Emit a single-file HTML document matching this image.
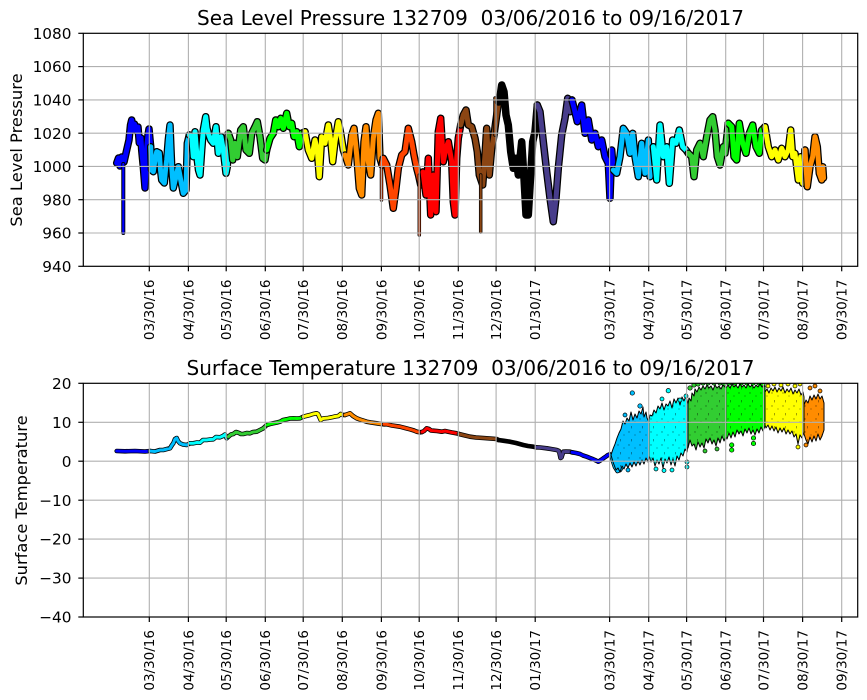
<!DOCTYPE html>
<html><head><meta charset="utf-8"><style>
html,body{margin:0;padding:0;background:#fff;}
svg{display:block;}
text{font-family:"DejaVu Sans","Liberation Sans",sans-serif;fill:#000;}
</style></head><body>
<svg width="867" height="700" viewBox="0 0 867 700" xmlns="http://www.w3.org/2000/svg">
<defs>
<clipPath id="c1"><rect x="83.3" y="33.3" width="774.4" height="233"/></clipPath>
<clipPath id="c2"><rect x="83.3" y="383.3" width="774.4" height="233.7"/></clipPath>
<pattern id="spk" width="11" height="13" patternUnits="userSpaceOnUse"><circle cx="2" cy="3" r="0.7" fill="#000"/><circle cx="8" cy="6" r="0.6" fill="#000"/><rect x="4" y="10" width="0.8" height="2.4" fill="#000"/></pattern>
<!-- top series -->
<polyline id="t1" points="116.7,163 118.5,158 120,166 121.7,157 124,162 126.7,150 129,140 130.5,125 131.7,120 133,130 134.5,124 136.7,131 138,127 139.3,143 141,138 141.7,150 143.3,166.7 145,188 146,170 146.7,146.7 148,135 149,129 150.7,146.7"/>
<polyline id="t2" points="150.7,146.7 151.5,170 153.3,171.7 155,160 156.7,151.7 159.3,153 160.5,170 161.7,180 164.3,183 165.5,170 166.7,160 168.3,140 170,125 171,150 171.7,166.7 173.3,188 176,176.7 178.3,166.7 180.7,180 183.3,193.3 186,190 187.3,143.3 189.3,135"/>
<polyline id="t3" points="189.3,135 191.7,136.7 193.3,156.7 195,131.7 197.3,160 198.5,170 200,175 201.7,150 203.3,130 205.7,116.7 207,128 208.3,133.3 210.7,140 213.3,143.3 216,126.7 218.3,153.3 221,136.7 223.3,150 226,173.3 227.3,166.7 228.3,133.3"/>
<polyline id="t4" points="228.3,133.3 230.7,140 232.7,160 235,143.3 237.3,156.7 240.7,130 243.3,126.7 246,150 249.3,153.3 251.7,133.3 255,126.7 257.3,121.7 260,136.7 262.7,158.3 265,160 266.7,150"/>
<polyline id="t5" points="266.7,150 270,138.3 273.3,133.3 275.7,120 278.3,126.7 280.7,118.3 283.3,128.3 286.7,113.3 289.3,126.7 291.7,123.3 294,136.7 296.7,131.7 299.3,146.7 301.7,133.3 305,131.7"/>
<polyline id="t6" points="305,131.7 308.3,150 311.7,158.3 315,140 317.3,150 319.3,176.7 321.7,136.7 325,143.3 328.3,125 330.7,140 332.7,161.7 335,141.7 338.3,121.7 340.7,133.3 343.3,150 345,155"/>
<polyline id="t7" points="345,155 348.3,165 351.7,135 354,128.3 356.7,155 359.3,188.3 361.7,195 364,141.7 366,126.7 368.3,161.7 370.7,175 373.3,138.3 376,120 378.3,113.3 380,158.3 382,165"/>
<polyline id="t8" points="382,165 383.3,158.3 386.7,165 390,185 393.3,208.3 396,188.3 398.3,168.3 401.7,155 405,151.7 408.3,128.3 411.7,141.7 414,155 416.7,168.3 418.5,175 420.7,185 423,172"/>
<polyline id="t9" points="423,172 426,195 428.3,158.3 430.7,215 433.3,175 436,211.7 438.3,131.7 440.7,118.3 443.3,161.7 446,148.3 448.3,141.7 451.7,161.7 453.3,201.7 455,215 456.7,158.3 458.3,138.3 460.7,125"/>
<polyline id="t10" points="460.7,125 463.3,115 466,110 468.3,125 471.7,126.7 475,138.3 477.3,151.7 479.3,175 482.7,185 485,155 486.7,128.3 489.3,175 491.7,148.3 494,135 496.7,115 498.5,102"/>
<polyline id="t11" points="498.5,102 499.3,101.7 501.7,85 504,91.7 506,115 508.3,125 510.7,151.7 513.3,168.3 516,158.3 518.3,175 521.7,141.7 524,178.3 526,215 528.3,215 530.7,175 532.7,141.7 535,131.7 537.3,105"/>
<polyline id="t12" points="537.3,105 540,111.7 543.3,141.7 546.7,171.7 550,198.3 553.3,221.7 556,198.3 558.3,168.3 561.7,135 565,118.3 567.7,98.3 570,111.7 572,100"/>
<polyline id="t13" points="572,100 573.3,105 577.3,121.7 581.7,105 585,133.3 588.3,120 591.7,140 595,133.3 598.3,146.7 601.7,140 605,156.7 608.3,163.3 610,198.3 611.7,150 613.3,170"/>
<polyline id="t14" points="613.3,170 616.7,173.3 620,156.7 623.3,128.3 626.7,133.3 630,153.3 632.7,133.3 635,156.7 638.3,176.7 641.7,143.3 645,173.3 648.3,140 650,176.7 653.3,146.7"/>
<polyline id="t15" points="653.3,146.7 656.7,180 660,125 663.3,156.7 666.7,146.7 669.3,183.3 672.7,140 676,143.3 679.3,130 682.7,146.7 686,150 688.3,153.3"/>
<polyline id="t16" points="688.3,153.3 691.7,156.7 694,176.7 696.7,150 700,143.3 703.3,156.7 706.7,136.7 710,120 712.7,116.7 715,130 717.3,156.7 720,165 723.3,146.7 725,153.3 728.3,123.3"/>
<polyline id="t17" points="728.3,123.3 731.7,126.7 734,156.7 736.7,160 739.3,123.3 742.7,143.3 746,153.3 749.3,133.3 752.7,125 756,146.7 759.3,153.3 761.7,130 765,126.7"/>
<polyline id="t18" points="765,126.7 768.3,146.7 771.7,156.7 775,150 778.3,160 781.7,148.3 785,156.7 788.3,150 790.7,130 792.7,156.7 795,153.3 798.3,180 800.7,156.7 802.7,183.3 805,150"/>
<polyline id="t19" points="805,150 807.3,186.7 810,166.7 812.7,156.7 815,136.7 817.3,146.7 819.3,173.3 821.7,180 822.7,166.7 823.5,178"/>
<!-- bottom series -->
<polyline id="b1" points="116.7,451 125,451.3 135,451 145,451.5 150,451"/>
<polyline id="b2" points="150,451 155,451.5 160,450 163.3,450 167,449 170,448.3 172,445 173.3,443.3 175,439 176.7,438 178,441 180,443.3 183,444.5 186.7,445 190,443.3"/>
<polyline id="b3" points="190,443.3 193.3,443.3 197,442.5 200,442.7 203,440 206.7,440 210,439.5 213.3,439.3 216,437 220,437.3 223,436 225,434.5 226.7,438.3 228.3,436.7"/>
<polyline id="b4" points="228.3,436.7 231,434.5 233.3,434 236,432 238.3,432.7 241,434 243.3,434 247,433 250,433.3 253,432 256.7,431.7 260,430 263.3,428.3 266.7,425"/>
<polyline id="b5" points="266.7,425 270,424 273.3,423.3 277,422.5 280,421.7 283,420 286.7,419.3 290,418.5 293.3,418.3 297,418.5 300,418.3 303.3,416.7"/>
<polyline id="b6" points="303.3,416.7 306,416 310,415 313,414 316.7,413.3 318,414 320.7,420 323,418.5 325,418.3 328,418 331.7,417.3 335,416.5 338.3,416 340.7,414 343,415 345,415"/>
<polyline id="b7" points="345,415 348,414 350,413.3 353,416 356.7,418.3 360,419.5 366.7,421.7 371,422.5 376.7,423.3 381,424 384,424.3"/>
<polyline id="b8" points="384,424.3 386.7,424.3 392,425.5 400,426.7 405,428 410,429.3 414,430.5 416.7,431.7 420,432.3 422,432"/>
<polyline id="b9" points="422,432 424,431 426.7,428.3 429,429 431,430.5 433.3,430.7 437,431 441.7,431.7 445,431 448.3,431.7 452,432.5 456.7,433.3 459,434"/>
<polyline id="b10" points="459,434 463,435 470,436.7 476,437.5 483.3,438 490,438.5 496.7,439 498.3,440"/>
<polyline id="b11" points="498.3,440 504,440.8 510,441.7 516,443 523.3,445 528,446 533.3,446.7 536,447.3"/>
<polyline id="b12" points="536,447.3 540,447.5 546.7,448.3 551,449 556.7,450 559,451 560.5,458 561.5,457.5 563.3,451.7 566,451.5 570,451.7 572,452.3"/>
<polyline id="b13" points="572,452.3 576,453 580,454 583,455.5 586.7,456.7 590,458 593.3,459.3 596,460.5 598.3,461.7 601,460 603.3,458.3 606,456.5 608,455 610,454.3 611.5,455"/>
<polyline id="b14" points="611.5,455 613,461 615,467 617.5,471 620,470 622,466"/>
<!-- clouds -->
<polygon id="k1" points="611,455 613,462 616,470 618,468 620,472 622,466 624,469 626,464 628,468 630,463 632,467 634,462 636,466 638,461 640,465 642,460 644,464 646,458 648,462 649,456 649,422 647,418 646,412 644,417 643,407 641,414 639,411 637,418 635,414 633,420 631,412 629,421 627,418 625,424 623,421 621,429 619,433 617,438 615,444 613,449 612,452"/>
<polygon id="k2" points="649,456 651,462 653,458 655,466 657,460 659,464 661,458 663,468 665,459 667,463 669,457 671,465 673,459 675,466 677,456 679,460 681,453 683,456 685,449 687,452 688,444 688,404 686,396 684,401 682,397 680,405 678,398 676,403 674,399 672,408 670,401 668,406 666,404 664,410 662,403 660,409 658,406 656,413 654,410 652,416 650,415 649,420"/>
<polygon id="k3" points="688,404 689,398 691,401 692,393 694,396 695,389 697,392 699,387 701,390 703,386 705,389 707,385 709,388 711,386 713,390 715,385 717,388 719,386 721,389 723,385 726,388 726,437 724,441 722,436 720,443 718,438 716,446 714,440 712,444 710,438 708,443 706,439 704,448 702,443 700,447 698,442 696,450 694,444 692,446 690,440 688,448"/>
<polygon id="k4" points="726,388 728,385 730,388 732,384 734,387 736,385 738,388 740,384 742,387 744,385 746,388 748,384 750,387 752,385 754,388 756,385 758,387 760,384 762,387 765,386 765,426 763,431 761,427 759,433 757,429 755,435 753,430 751,434 749,428 747,433 745,429 743,436 741,431 739,434 737,430 735,437 733,432 731,438 729,433 727,439 726,437"/>
<polygon id="k5" points="765,392 767,389 769,393 771,388 773,391 775,387 777,392 779,388 781,391 783,387 785,393 787,389 789,392 791,388 793,394 795,390 797,393 799,389 801,395 803,392 804,397 804,432 802,438 800,435 798,444 796,434 794,437 792,431 790,434 788,430 786,434 784,428 782,432 780,428 778,433 776,427 774,431 772,426 770,430 768,425 766,428 765,425"/>
<polygon id="k6" points="804,405 806,400 808,403 810,396 812,400 814,395 816,399 818,394 820,399 822,396 824,403 824,430 822,436 820,440 818,434 816,441 814,436 812,442 810,437 808,444 806,440 804,434"/>
</defs>

<!-- TOP AXES -->
<g clip-path="url(#c1)" fill="none" stroke-linejoin="round" stroke-linecap="round">
<use href="#t1" stroke="#000" stroke-width="7.5"/><use href="#t1" stroke="#0000ff" stroke-width="5"/>
<line x1="123.3" y1="164" x2="123.3" y2="233" stroke="#000" stroke-width="4"/><line x1="123.3" y1="164" x2="123.3" y2="233" stroke="#0000ff" stroke-width="2.2"/>
<use href="#t2" stroke="#000" stroke-width="7.5"/><use href="#t2" stroke="#00bfff" stroke-width="5"/>
<use href="#t3" stroke="#000" stroke-width="7.5"/><use href="#t3" stroke="#00ffff" stroke-width="5"/>
<use href="#t4" stroke="#000" stroke-width="7.5"/><use href="#t4" stroke="#32cd32" stroke-width="5"/>
<use href="#t5" stroke="#000" stroke-width="7.5"/><use href="#t5" stroke="#00ff00" stroke-width="5"/>
<use href="#t6" stroke="#000" stroke-width="7.5"/><use href="#t6" stroke="#ffff00" stroke-width="5"/>
<use href="#t7" stroke="#000" stroke-width="7.5"/><use href="#t7" stroke="#ff8c00" stroke-width="5"/>
<line x1="381.5" y1="158" x2="381.5" y2="200" stroke="#000" stroke-width="3.5"/><line x1="381.5" y1="158" x2="381.5" y2="200" stroke="#ff4500" stroke-width="2"/>
<use href="#t8" stroke="#000" stroke-width="7.5"/><use href="#t8" stroke="#ff4500" stroke-width="5"/>
<line x1="419.3" y1="175" x2="419.3" y2="235" stroke="#000" stroke-width="3.5"/><line x1="419.3" y1="175" x2="419.3" y2="235" stroke="#ff4500" stroke-width="2"/>
<use href="#t9" stroke="#000" stroke-width="7.5"/><use href="#t9" stroke="#ff0000" stroke-width="5"/>
<use href="#t10" stroke="#000" stroke-width="7.5"/><use href="#t10" stroke="#8b4513" stroke-width="5"/>
<line x1="480.7" y1="175" x2="480.7" y2="232" stroke="#000" stroke-width="3.5"/><line x1="480.7" y1="175" x2="480.7" y2="232" stroke="#8b4513" stroke-width="2"/>
<line x1="495" y1="135" x2="495" y2="98" stroke="#000" stroke-width="3.5"/><line x1="495" y1="135" x2="495" y2="98" stroke="#8b4513" stroke-width="2"/>
<use href="#t11" stroke="#000" stroke-width="7.5"/><use href="#t11" stroke="#000000" stroke-width="5"/>
<use href="#t12" stroke="#000" stroke-width="7.5"/><use href="#t12" stroke="#483d8b" stroke-width="5"/>
<use href="#t13" stroke="#000" stroke-width="7.5"/><use href="#t13" stroke="#0000ff" stroke-width="5"/>
<use href="#t14" stroke="#000" stroke-width="7.5"/><use href="#t14" stroke="#00bfff" stroke-width="5"/>
<use href="#t15" stroke="#000" stroke-width="7.5"/><use href="#t15" stroke="#00ffff" stroke-width="5"/>
<use href="#t16" stroke="#000" stroke-width="7.5"/><use href="#t16" stroke="#32cd32" stroke-width="5"/>
<use href="#t17" stroke="#000" stroke-width="7.5"/><use href="#t17" stroke="#00ff00" stroke-width="5"/>
<use href="#t18" stroke="#000" stroke-width="7.5"/><use href="#t18" stroke="#ffff00" stroke-width="5"/>
<use href="#t19" stroke="#000" stroke-width="7.5"/><use href="#t19" stroke="#ff8c00" stroke-width="5"/>
</g>
<!-- top grid -->
<g stroke="#b0b0b0" stroke-width="1.1">
<line x1="83.3" y1="66.6" x2="857.7" y2="66.6"/><line x1="83.3" y1="99.9" x2="857.7" y2="99.9"/><line x1="83.3" y1="133.2" x2="857.7" y2="133.2"/><line x1="83.3" y1="166.4" x2="857.7" y2="166.4"/><line x1="83.3" y1="199.7" x2="857.7" y2="199.7"/><line x1="83.3" y1="233" x2="857.7" y2="233"/>
<line x1="149.3" y1="33.3" x2="149.3" y2="266.3"/><line x1="188.4" y1="33.3" x2="188.4" y2="266.3"/><line x1="226.2" y1="33.3" x2="226.2" y2="266.3"/><line x1="265.3" y1="33.3" x2="265.3" y2="266.3"/><line x1="303.2" y1="33.3" x2="303.2" y2="266.3"/><line x1="342.3" y1="33.3" x2="342.3" y2="266.3"/><line x1="381.4" y1="33.3" x2="381.4" y2="266.3"/><line x1="419.2" y1="33.3" x2="419.2" y2="266.3"/><line x1="458.3" y1="33.3" x2="458.3" y2="266.3"/><line x1="496.1" y1="33.3" x2="496.1" y2="266.3"/><line x1="535.2" y1="33.3" x2="535.2" y2="266.3"/><line x1="609.6" y1="33.3" x2="609.6" y2="266.3"/><line x1="648.7" y1="33.3" x2="648.7" y2="266.3"/><line x1="686.6" y1="33.3" x2="686.6" y2="266.3"/><line x1="725.7" y1="33.3" x2="725.7" y2="266.3"/><line x1="763.5" y1="33.3" x2="763.5" y2="266.3"/><line x1="802.6" y1="33.3" x2="802.6" y2="266.3"/><line x1="841.7" y1="33.3" x2="841.7" y2="266.3"/>
</g>
<rect x="83.3" y="33.3" width="774.4" height="233" fill="none" stroke="#000" stroke-width="1.2"/>
<g stroke="#000" stroke-width="1.2">
<line x1="78.3" y1="33.3" x2="83.3" y2="33.3"/><line x1="78.3" y1="66.6" x2="83.3" y2="66.6"/><line x1="78.3" y1="99.9" x2="83.3" y2="99.9"/><line x1="78.3" y1="133.2" x2="83.3" y2="133.2"/><line x1="78.3" y1="166.4" x2="83.3" y2="166.4"/><line x1="78.3" y1="199.7" x2="83.3" y2="199.7"/><line x1="78.3" y1="233" x2="83.3" y2="233"/><line x1="78.3" y1="266.3" x2="83.3" y2="266.3"/>
<line x1="149.3" y1="266.3" x2="149.3" y2="271.3"/><line x1="188.4" y1="266.3" x2="188.4" y2="271.3"/><line x1="226.2" y1="266.3" x2="226.2" y2="271.3"/><line x1="265.3" y1="266.3" x2="265.3" y2="271.3"/><line x1="303.2" y1="266.3" x2="303.2" y2="271.3"/><line x1="342.3" y1="266.3" x2="342.3" y2="271.3"/><line x1="381.4" y1="266.3" x2="381.4" y2="271.3"/><line x1="419.2" y1="266.3" x2="419.2" y2="271.3"/><line x1="458.3" y1="266.3" x2="458.3" y2="271.3"/><line x1="496.1" y1="266.3" x2="496.1" y2="271.3"/><line x1="535.2" y1="266.3" x2="535.2" y2="271.3"/><line x1="609.6" y1="266.3" x2="609.6" y2="271.3"/><line x1="648.7" y1="266.3" x2="648.7" y2="271.3"/><line x1="686.6" y1="266.3" x2="686.6" y2="271.3"/><line x1="725.7" y1="266.3" x2="725.7" y2="271.3"/><line x1="763.5" y1="266.3" x2="763.5" y2="271.3"/><line x1="802.6" y1="266.3" x2="802.6" y2="271.3"/><line x1="841.7" y1="266.3" x2="841.7" y2="271.3"/>
</g>
<text x="470.5" y="25" font-size="20" text-anchor="middle" style="white-space:pre">Sea Level Pressure 132709  03/06/2016 to 09/16/2017</text>
<g font-size="15.3" text-anchor="end">
<text x="71.5" y="38.9">1080</text><text x="71.5" y="72.2">1060</text><text x="71.5" y="105.5">1040</text><text x="71.5" y="138.8">1020</text><text x="71.5" y="172">1000</text><text x="71.5" y="205.3">980</text><text x="71.5" y="238.6">960</text><text x="71.5" y="271.9">940</text>
</g>
<text transform="translate(22,150) rotate(-90)" font-size="16.3" text-anchor="middle">Sea Level Pressure</text>
<g font-size="13.5" text-anchor="end">
<text transform="translate(154.2,279.5) rotate(-90)">03/30/16</text>
<text transform="translate(193.3,279.5) rotate(-90)">04/30/16</text>
<text transform="translate(231.1,279.5) rotate(-90)">05/30/16</text>
<text transform="translate(270.2,279.5) rotate(-90)">06/30/16</text>
<text transform="translate(308.1,279.5) rotate(-90)">07/30/16</text>
<text transform="translate(347.2,279.5) rotate(-90)">08/30/16</text>
<text transform="translate(386.3,279.5) rotate(-90)">09/30/16</text>
<text transform="translate(424.1,279.5) rotate(-90)">10/30/16</text>
<text transform="translate(463.2,279.5) rotate(-90)">11/30/16</text>
<text transform="translate(501,279.5) rotate(-90)">12/30/16</text>
<text transform="translate(540.1,279.5) rotate(-90)">01/30/17</text>
<text transform="translate(614.5,279.5) rotate(-90)">03/30/17</text>
<text transform="translate(653.6,279.5) rotate(-90)">04/30/17</text>
<text transform="translate(691.5,279.5) rotate(-90)">05/30/17</text>
<text transform="translate(730.6,279.5) rotate(-90)">06/30/17</text>
<text transform="translate(768.4,279.5) rotate(-90)">07/30/17</text>
<text transform="translate(807.5,279.5) rotate(-90)">08/30/17</text>
<text transform="translate(846.6,279.5) rotate(-90)">09/30/17</text>
</g>

<!-- BOTTOM AXES -->
<g clip-path="url(#c2)" stroke-linejoin="round" stroke-linecap="round">
<g fill="none">
<use href="#b1" stroke="#000" stroke-width="4.6"/><use href="#b1" stroke="#0000ff" stroke-width="3"/>
<use href="#b2" stroke="#000" stroke-width="4.6"/><use href="#b2" stroke="#00bfff" stroke-width="3"/>
<use href="#b3" stroke="#000" stroke-width="4.6"/><use href="#b3" stroke="#00ffff" stroke-width="3"/>
<use href="#b4" stroke="#000" stroke-width="4.6"/><use href="#b4" stroke="#32cd32" stroke-width="3"/>
<use href="#b5" stroke="#000" stroke-width="4.6"/><use href="#b5" stroke="#00ff00" stroke-width="3"/>
<use href="#b6" stroke="#000" stroke-width="4.6"/><use href="#b6" stroke="#ffff00" stroke-width="3"/>
<use href="#b7" stroke="#000" stroke-width="4.6"/><use href="#b7" stroke="#ff8c00" stroke-width="3"/>
<use href="#b8" stroke="#000" stroke-width="4.6"/><use href="#b8" stroke="#ff4500" stroke-width="3"/>
<use href="#b9" stroke="#000" stroke-width="4.6"/><use href="#b9" stroke="#ff0000" stroke-width="3"/>
<use href="#b10" stroke="#000" stroke-width="4.6"/><use href="#b10" stroke="#8b4513" stroke-width="3"/>
<use href="#b11" stroke="#000" stroke-width="4.6"/><use href="#b11" stroke="#000000" stroke-width="3"/>
<use href="#b12" stroke="#000" stroke-width="4.6"/><use href="#b12" stroke="#483d8b" stroke-width="3"/>
<use href="#b13" stroke="#000" stroke-width="4.6"/><use href="#b13" stroke="#0000ff" stroke-width="3"/>
<use href="#b14" stroke="#000" stroke-width="4.6"/><use href="#b14" stroke="#00bfff" stroke-width="3"/>
</g>
<g stroke="#000" stroke-width="0.7">
<circle cx="690" cy="388" r="2.2" fill="#32cd32"/><circle cx="694" cy="385" r="2.2" fill="#32cd32"/><circle cx="698" cy="384" r="2.2" fill="#32cd32"/><circle cx="703" cy="383" r="2.2" fill="#32cd32"/><circle cx="708" cy="383" r="2.2" fill="#32cd32"/><circle cx="714" cy="383" r="2.2" fill="#32cd32"/><circle cx="720" cy="383" r="2.2" fill="#32cd32"/><circle cx="724" cy="384" r="2.2" fill="#32cd32"/>
<circle cx="729" cy="383" r="2.2" fill="#00ff00"/><circle cx="735" cy="383" r="2.2" fill="#00ff00"/><circle cx="741" cy="383" r="2.2" fill="#00ff00"/><circle cx="747" cy="383" r="2.2" fill="#00ff00"/><circle cx="753" cy="383" r="2.2" fill="#00ff00"/><circle cx="759" cy="383" r="2.2" fill="#00ff00"/><circle cx="763" cy="384" r="2.2" fill="#00ff00"/>
<circle cx="768" cy="386" r="2" fill="#ffff00"/><circle cx="774" cy="384" r="2" fill="#ffff00"/><circle cx="781" cy="385" r="2" fill="#ffff00"/><circle cx="788" cy="384" r="2" fill="#ffff00"/><circle cx="795" cy="386" r="2" fill="#ffff00"/><circle cx="800" cy="384" r="2" fill="#ffff00"/>
</g>
<g stroke="#000" stroke-width="1">
<use href="#k1" fill="#00bfff"/>
<use href="#k2" fill="#00ffff"/>
<use href="#k3" fill="#32cd32"/>
<use href="#k4" fill="#00ff00"/>
<use href="#k5" fill="#ffff00"/>
<use href="#k6" fill="#ff8c00"/>
</g>
<g fill="url(#spk)" stroke="none" opacity="0.45">
<use href="#k1"/><use href="#k2"/><use href="#k3"/><use href="#k4"/><use href="#k5"/><use href="#k6"/>
</g>
<g stroke="#000" stroke-width="0.7">
<circle cx="632.3" cy="393" r="2.2" fill="#00bfff"/><circle cx="640" cy="406" r="2.2" fill="#00bfff"/><circle cx="625" cy="415" r="2" fill="#00bfff"/><circle cx="628" cy="470" r="2" fill="#00bfff"/>
<circle cx="668.3" cy="390.7" r="2.2" fill="#00ffff"/><circle cx="662" cy="399" r="2" fill="#00ffff"/><circle cx="680" cy="400" r="2" fill="#00ffff"/><circle cx="656" cy="469" r="2" fill="#00ffff"/><circle cx="664" cy="470.5" r="2" fill="#00ffff"/><circle cx="672" cy="470" r="2" fill="#00ffff"/><circle cx="687" cy="467" r="2" fill="#00ffff"/><circle cx="687" cy="462" r="2" fill="#00ffff"/><circle cx="686" cy="396" r="2" fill="#00ffff"/>
<circle cx="731.7" cy="445" r="2.2" fill="#00ff00"/><circle cx="731.7" cy="450" r="2.2" fill="#00ff00"/><circle cx="753.5" cy="438" r="2.2" fill="#00ff00"/><circle cx="753.5" cy="443.5" r="2.2" fill="#00ff00"/>
<circle cx="717" cy="449" r="2" fill="#32cd32"/><circle cx="705" cy="451" r="2" fill="#32cd32"/>
<circle cx="798" cy="447" r="2" fill="#ffff00"/>
<circle cx="810" cy="388" r="2" fill="#ff8c00"/><circle cx="815" cy="386" r="2" fill="#ff8c00"/><circle cx="820" cy="391" r="2" fill="#ff8c00"/><circle cx="806" cy="445" r="2" fill="#ff8c00"/>
</g>
</g>
<!-- bottom grid -->
<g stroke="#b0b0b0" stroke-width="1.1">
<line x1="83.3" y1="422.3" x2="857.7" y2="422.3"/><line x1="83.3" y1="461.2" x2="857.7" y2="461.2"/><line x1="83.3" y1="500.2" x2="857.7" y2="500.2"/><line x1="83.3" y1="539.1" x2="857.7" y2="539.1"/><line x1="83.3" y1="578.1" x2="857.7" y2="578.1"/>
<line x1="149.3" y1="383.3" x2="149.3" y2="617"/><line x1="188.4" y1="383.3" x2="188.4" y2="617"/><line x1="226.2" y1="383.3" x2="226.2" y2="617"/><line x1="265.3" y1="383.3" x2="265.3" y2="617"/><line x1="303.2" y1="383.3" x2="303.2" y2="617"/><line x1="342.3" y1="383.3" x2="342.3" y2="617"/><line x1="381.4" y1="383.3" x2="381.4" y2="617"/><line x1="419.2" y1="383.3" x2="419.2" y2="617"/><line x1="458.3" y1="383.3" x2="458.3" y2="617"/><line x1="496.1" y1="383.3" x2="496.1" y2="617"/><line x1="535.2" y1="383.3" x2="535.2" y2="617"/><line x1="609.6" y1="383.3" x2="609.6" y2="617"/><line x1="648.7" y1="383.3" x2="648.7" y2="617"/><line x1="686.6" y1="383.3" x2="686.6" y2="617"/><line x1="725.7" y1="383.3" x2="725.7" y2="617"/><line x1="763.5" y1="383.3" x2="763.5" y2="617"/><line x1="802.6" y1="383.3" x2="802.6" y2="617"/><line x1="841.7" y1="383.3" x2="841.7" y2="617"/>
</g>
<rect x="83.3" y="383.3" width="774.4" height="233.7" fill="none" stroke="#000" stroke-width="1.2"/>
<g stroke="#000" stroke-width="1.2">
<line x1="78.3" y1="383.3" x2="83.3" y2="383.3"/><line x1="78.3" y1="422.3" x2="83.3" y2="422.3"/><line x1="78.3" y1="461.2" x2="83.3" y2="461.2"/><line x1="78.3" y1="500.2" x2="83.3" y2="500.2"/><line x1="78.3" y1="539.1" x2="83.3" y2="539.1"/><line x1="78.3" y1="578.1" x2="83.3" y2="578.1"/><line x1="78.3" y1="617" x2="83.3" y2="617"/>
<line x1="149.3" y1="617" x2="149.3" y2="622"/><line x1="188.4" y1="617" x2="188.4" y2="622"/><line x1="226.2" y1="617" x2="226.2" y2="622"/><line x1="265.3" y1="617" x2="265.3" y2="622"/><line x1="303.2" y1="617" x2="303.2" y2="622"/><line x1="342.3" y1="617" x2="342.3" y2="622"/><line x1="381.4" y1="617" x2="381.4" y2="622"/><line x1="419.2" y1="617" x2="419.2" y2="622"/><line x1="458.3" y1="617" x2="458.3" y2="622"/><line x1="496.1" y1="617" x2="496.1" y2="622"/><line x1="535.2" y1="617" x2="535.2" y2="622"/><line x1="609.6" y1="617" x2="609.6" y2="622"/><line x1="648.7" y1="617" x2="648.7" y2="622"/><line x1="686.6" y1="617" x2="686.6" y2="622"/><line x1="725.7" y1="617" x2="725.7" y2="622"/><line x1="763.5" y1="617" x2="763.5" y2="622"/><line x1="802.6" y1="617" x2="802.6" y2="622"/><line x1="841.7" y1="617" x2="841.7" y2="622"/>
</g>
<text x="470.5" y="375" font-size="20" text-anchor="middle" style="white-space:pre">Surface Temperature 132709  03/06/2016 to 09/16/2017</text>
<g font-size="15.3" text-anchor="end">
<text x="71.5" y="388.9">20</text><text x="71.5" y="427.9">10</text><text x="71.5" y="466.8">0</text><text x="71.5" y="505.8">−10</text><text x="71.5" y="544.7">−20</text><text x="71.5" y="583.7">−30</text><text x="71.5" y="622.6">−40</text>
</g>
<text transform="translate(27,500.5) rotate(-90)" font-size="16.3" text-anchor="middle">Surface Temperature</text>
<g font-size="13.5" text-anchor="end">
<text transform="translate(154.2,630) rotate(-90)">03/30/16</text>
<text transform="translate(193.3,630) rotate(-90)">04/30/16</text>
<text transform="translate(231.1,630) rotate(-90)">05/30/16</text>
<text transform="translate(270.2,630) rotate(-90)">06/30/16</text>
<text transform="translate(308.1,630) rotate(-90)">07/30/16</text>
<text transform="translate(347.2,630) rotate(-90)">08/30/16</text>
<text transform="translate(386.3,630) rotate(-90)">09/30/16</text>
<text transform="translate(424.1,630) rotate(-90)">10/30/16</text>
<text transform="translate(463.2,630) rotate(-90)">11/30/16</text>
<text transform="translate(501,630) rotate(-90)">12/30/16</text>
<text transform="translate(540.1,630) rotate(-90)">01/30/17</text>
<text transform="translate(614.5,630) rotate(-90)">03/30/17</text>
<text transform="translate(653.6,630) rotate(-90)">04/30/17</text>
<text transform="translate(691.5,630) rotate(-90)">05/30/17</text>
<text transform="translate(730.6,630) rotate(-90)">06/30/17</text>
<text transform="translate(768.4,630) rotate(-90)">07/30/17</text>
<text transform="translate(807.5,630) rotate(-90)">08/30/17</text>
<text transform="translate(846.6,630) rotate(-90)">09/30/17</text>
</g>
</svg>
</body></html>
